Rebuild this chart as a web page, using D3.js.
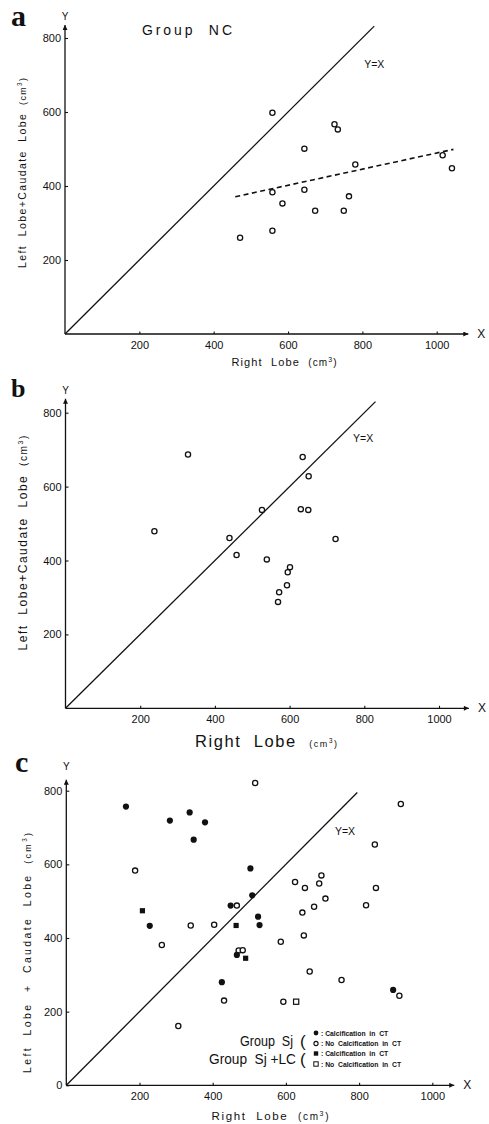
<!DOCTYPE html>
<html><head><meta charset="utf-8">
<script src="https://cdn.jsdelivr.net/npm/d3@7"></script>
<style>body{margin:0;background:#fff}svg{display:block}text{white-space:pre}</style>
</head><body>
<svg id="chart" width="489" height="1124"></svg>
<script>
// ---------- data ----------
const xTicks = [200, 400, 600, 800, 1000];
const yTicksAB = [200, 400, 600, 800];
const yTicksC = [0, 200, 400, 600, 800];

// Panel a: Group NC
const ncRight = [558, 725, 734, 644, 781, 1016, 1041, 558, 644, 585, 673, 750, 764, 471, 558];
const ncLeft  = [598, 567, 553, 501, 458, 483, 448, 383, 390, 353, 333, 333, 372, 260, 279];
const ncTrendRight = [458, 1045];
const ncTrendLeft  = [371, 499];

// Panel b
const bRight = [328, 238, 635, 651, 526, 630, 650, 439, 723, 458, 539, 601, 595, 593, 572, 569];
const bLeft  = [687, 479, 680, 628, 537, 539, 537, 461, 458, 415, 403, 382, 368, 333, 314, 288];

// Panel c
const sjCalcRight = [163, 283, 337, 379, 348, 503, 508, 228, 449, 524, 528, 466, 425, 893];
const sjCalcLeft  = [757, 719, 741, 714, 667, 589, 516, 433, 488, 458, 435, 354, 280, 259];
const sjNoRight = [516, 914, 188, 843, 846, 625, 652, 697, 691, 708, 677, 645, 819, 466, 340, 404, 649, 586, 261, 306, 471, 482, 431, 593, 665, 752, 910];
const sjNoLeft  = [821, 764, 583, 654, 536, 552, 536, 570, 548, 507, 485, 469, 489, 488, 434, 436, 407, 390, 381, 161, 366, 367, 230, 227, 309, 286, 243];
const lcCalcRight = [208, 464, 490];
const lcCalcLeft  = [474, 434, 345];
const lcNoRight = [628];
const lcNoLeft  = [227];

const legendLabels = [": Calcification  in  CT", ": No  Calcification  in  CT", ": Calcification  in  CT", ": No  Calcification  in  CT"];

// ---------- drawing ----------
const svg = d3.select("#chart");
svg.append("rect").attr("width", 489).attr("height", 1124).attr("fill", "#fff");
const defs = svg.append("defs");
defs.append("marker").attr("id", "arr").attr("viewBox", "0 0 10 10")
  .attr("refX", 10).attr("refY", 5).attr("markerWidth", 7).attr("markerHeight", 5)
  .attr("markerUnits", "userSpaceOnUse").attr("orient", "auto")
  .append("path").attr("d", "M0,0 L10,5 L0,10 Z").attr("fill", "#111");

const SANS = "'Liberation Sans', Arial, sans-serif";
const SERIF = "'Liberation Serif', 'DejaVu Serif', serif";

function panel(cfg) {
  const x = d3.scaleLinear().domain([0, 1000]).range([cfg.ox, cfg.x1000]);
  const y = d3.scaleLinear().domain([0, 800]).range([cfg.oy, cfg.y800]);
  const g = svg.append("g");

  g.append("line").attr("x1", x(0)).attr("y1", y(0)).attr("x2", x(cfg.xMax)).attr("y2", y(0))
    .attr("stroke", "#111").attr("stroke-width", 1.3).attr("marker-end", "url(#arr)");
  g.append("line").attr("x1", x(0)).attr("y1", y(0)).attr("x2", x(0)).attr("y2", y(cfg.yMax))
    .attr("stroke", "#111").attr("stroke-width", 1.3).attr("marker-end", "url(#arr)");

  const fmt = d3.format("d");
  const xa = g.append("g").attr("transform", `translate(0,${y(0)})`)
    .call(d3.axisBottom(x).tickValues(xTicks).tickFormat(fmt).tickSizeInner(-2.5).tickSizeOuter(0).tickPadding(7));
  const ya = g.append("g").attr("transform", `translate(${x(0)},0)`)
    .call(d3.axisLeft(y).tickValues(cfg.yTicks).tickFormat(fmt).tickSizeInner(-3).tickSizeOuter(0).tickPadding(4));
  [xa, ya].forEach(a => {
    a.select(".domain").remove();
    a.selectAll("line").attr("stroke", "#111").attr("stroke-width", 1.1);
    a.selectAll("text").attr("font-family", SANS).attr("font-size", 11).attr("fill", "#111");
  });
  xa.selectAll("text").attr("dy", "0.71em");

  g.append("text").attr("x", x(cfg.xMax) + 9).attr("y", y(0) + 4).text("X")
    .attr("font-family", SANS).attr("font-size", 12).attr("fill", "#111");
  g.append("text").attr("x", x(0)).attr("y", cfg.yLetterY).attr("text-anchor", "middle").text("Y")
    .attr("font-family", SANS).attr("font-size", 10).attr("fill", "#111");

  g.append("line").attr("x1", x(0)).attr("y1", y(0)).attr("x2", x(cfg.idEnd)).attr("y2", y(cfg.idEnd))
    .attr("stroke", "#111").attr("stroke-width", 1.3);
  g.append("text").attr("x", x(cfg.idLabel[0])).attr("y", y(cfg.idLabel[1])).text("Y=X")
    .attr("font-family", SANS).attr("font-size", 10.5).attr("fill", "#111");

  g.append("text").attr("x", cfg.letter[0]).attr("y", cfg.letter[1]).text(cfg.letterText)
    .attr("font-family", SERIF).attr("font-weight", "bold").attr("font-size", cfg.letterSize).attr("fill", "#111");

  const yl = g.append("text").attr("transform", `translate(${cfg.yLab[0]},${cfg.yLab[1]}) rotate(-90)`)
    .attr("text-anchor", "middle").attr("font-family", SANS).attr("font-size", cfg.yLabSize).attr("fill", "#111")
    .attr("textLength", cfg.yLabLen).attr("lengthAdjust", "spacing");
  yl.append("tspan").text(cfg.yLabText);
  yl.append("tspan").attr("font-size", cfg.yLabSize * 0.85).text("  (cm");
  yl.append("tspan").attr("font-size", cfg.yLabSize * 0.6).attr("dy", -4).text("3");
  yl.append("tspan").attr("font-size", cfg.yLabSize * 0.85).attr("dy", 4).text(")");

  return {g, x, y};
}

function xLabel(g, cx, by, size, small, len) {
  const t = g.append("text").attr("x", cx).attr("y", by).attr("text-anchor", "middle")
    .attr("font-family", SANS).attr("fill", "#111").attr("textLength", len).attr("lengthAdjust", "spacing");
  t.append("tspan").attr("font-size", size).text("Right  Lobe  ");
  t.append("tspan").attr("font-size", small).text("(cm");
  t.append("tspan").attr("font-size", small * 0.7).attr("dy", -4).text("3");
  t.append("tspan").attr("font-size", small).attr("dy", 4).text(")");
}

function openCircles(p, xs, ys) {
  p.g.append("g").selectAll("circle").data(xs).join("circle")
    .attr("cx", (d) => p.x(d)).attr("cy", (d, i) => p.y(ys[i])).attr("r", 2.6)
    .attr("fill", "#fff").attr("stroke", "#111").attr("stroke-width", 1.3);
}
function filledCircles(p, xs, ys) {
  p.g.append("g").selectAll("circle").data(xs).join("circle")
    .attr("cx", (d) => p.x(d)).attr("cy", (d, i) => p.y(ys[i])).attr("r", 3.1).attr("fill", "#111");
}
function squares(p, xs, ys, filled) {
  p.g.append("g").selectAll("rect").data(xs).join("rect")
    .attr("x", (d) => p.x(d) - 2.6).attr("y", (d, i) => p.y(ys[i]) - 2.6).attr("width", 5.2).attr("height", 5.2)
    .attr("fill", filled ? "#111" : "#fff").attr("stroke", "#111").attr("stroke-width", filled ? 0 : 1.2);
}

// ---- Panel a ----
const pa = panel({ox: 65, x1000: 436.7, oy: 334, y800: 38, xMax: 1085, yMax: 835, idEnd: 832,
  yTicks: yTicksAB, yLetterY: 20, idLabel: [805, 718], letter: [11, 26], letterText: "a", letterSize: 30,
  yLab: [26, 173], yLabSize: 10.5, yLabLen: 190, yLabText: "Left  Lobe+Caudate  Lobe"});
xLabel(pa.g, 284, 366, 11, 10, 105);
pa.g.append("text").attr("x", 142).attr("y", 35).text("Group  NC").attr("font-family", SANS)
  .attr("font-size", 14).attr("textLength", 90).attr("lengthAdjust", "spacing").attr("fill", "#111");
pa.g.append("path").datum(ncTrendRight)
  .attr("d", d3.line().x((d) => pa.x(d)).y((d, i) => pa.y(ncTrendLeft[i])))
  .attr("stroke", "#111").attr("stroke-width", 1.6).attr("stroke-dasharray", "5,3.5").attr("fill", "none");
openCircles(pa, ncRight, ncLeft);

// ---- Panel b ----
const pb = panel({ox: 65.5, x1000: 439, oy: 708.3, y800: 412.7, xMax: 1080, yMax: 838, idEnd: 830,
  yTicks: yTicksAB, yLetterY: 394, idLabel: [770, 721], letter: [11, 397], letterText: "b", letterSize: 26,
  yLab: [27, 543], yLabSize: 12, yLabLen: 215, yLabText: "Left  Lobe+Caudate  Lobe"});
xLabel(pb.g, 266, 747, 16.5, 9, 142);
openCircles(pb, bRight, bLeft);

// ---- Panel c ----
const pc = panel({ox: 66.3, x1000: 432.3, oy: 1085.3, y800: 790.7, xMax: 1060, yMax: 830, idEnd: 795,
  yTicks: yTicksC, yLetterY: 770, idLabel: [734, 680], letter: [15, 772], letterText: "c", letterSize: 30,
  yLab: [31, 953], yLabSize: 10.5, yLabLen: 240, yLabText: "Left  Lobe  +  Caudate  Lobe"});
xLabel(pc.g, 270, 1120, 11.5, 10, 117);
openCircles(pc, sjNoRight, sjNoLeft);
filledCircles(pc, sjCalcRight, sjCalcLeft);
squares(pc, lcCalcRight, lcCalcLeft, true);
squares(pc, lcNoRight, lcNoLeft, false);

// legend
const lg = pc.g.append("g");
lg.append("text").attr("x", 240).attr("y", 1046).attr("font-size", 14).attr("font-family", SANS).attr("fill", "#111")
  .attr("textLength", 53).attr("lengthAdjust", "spacingAndGlyphs").text("Group  Sj");
lg.append("text").attr("x", 209).attr("y", 1064).attr("font-size", 14).attr("font-family", SANS).attr("fill", "#111")
  .attr("textLength", 87).attr("lengthAdjust", "spacingAndGlyphs").text("Group  Sj +LC");
[1047, 1065].forEach(by => lg.append("text").attr("x", 300).attr("y", by).attr("font-size", 17)
  .attr("font-family", SANS).attr("fill", "#111").text("("));
const legY = [1033, 1043.5, 1053.5, 1064];
lg.append("circle").attr("cx", 316).attr("cy", legY[0]).attr("r", 2.4).attr("fill", "#111");
lg.append("circle").attr("cx", 316).attr("cy", legY[1]).attr("r", 2.1).attr("fill", "#fff").attr("stroke", "#111").attr("stroke-width", 1.1);
lg.append("rect").attr("x", 313.8).attr("y", legY[2] - 2.2).attr("width", 4.4).attr("height", 4.4).attr("fill", "#111");
lg.append("rect").attr("x", 313.8).attr("y", legY[3] - 2.2).attr("width", 4.4).attr("height", 4.4).attr("fill", "#fff").attr("stroke", "#111").attr("stroke-width", 1);
lg.selectAll("text.lt").data(legendLabels).join("text").attr("class", "lt")
  .attr("x", 321).attr("y", (d, i) => legY[i] + 2.5).attr("font-size", 6.8).attr("font-weight", "bold")
  .attr("font-family", SANS).attr("fill", "#111")
  .text((d) => d);
</script>
</body></html>
